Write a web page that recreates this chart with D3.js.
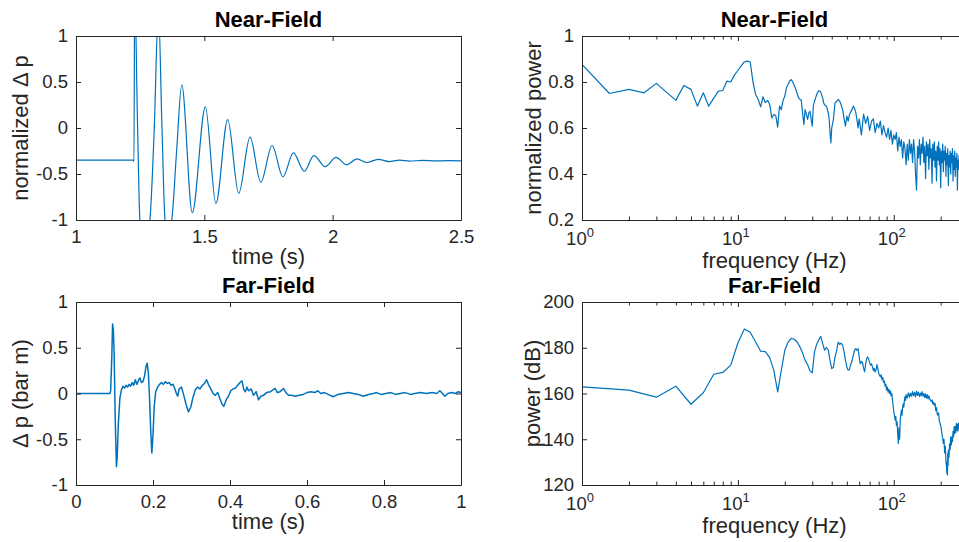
<!DOCTYPE html>
<html>
<head>
<meta charset="utf-8">
<script src="https://cdn.jsdelivr.net/npm/d3@7"></script>
<style>
body{margin:0;background:#fff;overflow:hidden}
svg{display:block;font-family:"Liberation Sans",Arial,Helvetica,sans-serif}
</style>
</head>
<body>
<script>
// near-field pressure, [time s, normalized dp]
const nearTime = [[1.0,-0.35],[1.1,-0.35],[1.2,-0.35],[1.224,-0.35],[1.2258,-0.365],[1.2285,1.5],
  [1.240,0.0],[1.249,-1.0],[1.268,-1.3],[1.288,-1.0],[1.305,0.0],[1.321,1.3],
  [1.335,0.0],[1.347,-1.0],[1.360,-1.12],[1.373,-1.0],[1.392,-0.25],[1.412,0.47],
  [1.453,-0.92],[1.504,0.23],[1.545,-0.82],[1.591,0.09],[1.634,-0.71],[1.678,-0.10],
  [1.720,-0.59],[1.764,-0.19],[1.806,-0.53],[1.847,-0.27],[1.889,-0.47],[1.927,-0.30],
  [1.971,-0.42],[2.013,-0.32],[2.055,-0.40],[2.095,-0.335],[2.133,-0.375],[2.177,-0.34],
  [2.220,-0.365],[2.260,-0.35],[2.300,-0.36],[2.350,-0.352],[2.400,-0.358],[2.450,-0.355],[2.500,-0.357]];

// near-field spectrum, [Hz, normalized power]
const nearSpec = [[1,0.877],[1.5,0.75],[2,0.768],[2.5,0.753],[3,0.794],[4,0.72],[4.5,0.785],[5,0.768],
  [5.5,0.695],[6,0.753],[6.5,0.695],[7,0.73],[7.5,0.76],[8,0.763],[8.5,0.804],[9,0.80],[9.5,0.83],
  [10,0.85],[10.5,0.87],[11,0.887],[11.5,0.891],[12,0.887],[12.5,0.80],[13,0.746],[13.5,0.724],
  [14,0.692],[14.5,0.736],[15,0.71],[15.5,0.72],[16,0.703],[16.5,0.644],[17,0.659],[17.5,0.654],
  [18,0.604],[18.5,0.695],[19,0.68],[19.5,0.72],[20,0.739],[20.5,0.775],[21,0.79],[21.5,0.805],
  [22,0.81],[22.5,0.80],[23,0.785],[23.5,0.768],[24,0.75],[24.5,0.731],[25,0.725],[25.5,0.721],
  [26,0.666],[26.5,0.615],[27,0.68],[27.5,0.66],[28,0.637],[28.5,0.665],[29,0.673],[29.5,0.64],
  [30,0.608],[30.5,0.698],[31,0.715],[31.5,0.73],[32,0.745],[32.5,0.755],[33,0.762],[33.5,0.76],
  [34,0.756],[35,0.73],[35.5,0.71],[36,0.70],[37,0.695],[38,0.666],[38.5,0.64],[39,0.58],[39.5,0.535],
  [40,0.60],[41,0.637],[42,0.71],[43,0.715],[44,0.724],[45,0.717],[46,0.70],[47,0.68],[48,0.64],
  [49,0.608],[50,0.652],[51,0.63],[52,0.659],[53,0.67],[54,0.68],[55,0.695],[56,0.685],[57,0.67],
  [58,0.637],[59,0.60],
  [60,0.64],[62,0.57],[64,0.66],[66,0.62],[68,0.65],[70,0.59],[72,0.63],[74,0.64],[76,0.58],[78,0.62],
  [80,0.60],[82,0.63],[84,0.57],[86,0.61],[88,0.58],[90,0.56],[92,0.60],[94,0.55],[96,0.59],[98,0.53],
  [100,0.57],[102,0.55],[104,0.58],[106,0.50],[108,0.56],[110,0.52],[112,0.55],[114,0.47],[116,0.54],
  [118,0.51],[120,0.44],[122,0.53],[124,0.46],[126,0.55],[128,0.49],[130,0.53],[132,0.45],[134,0.55],
  [136,0.50],[138,0.40],[140,0.33],[142,0.52],[144,0.47],[146,0.55],[148,0.44],[150,0.53],[152,0.49],
  [154,0.56],[156,0.45],[158,0.52],[160,0.38],[162,0.54],[164,0.48],[166,0.53],[168,0.42],[170,0.55],
  [172,0.47],[174,0.51],[176,0.36],[178,0.53],[180,0.46],[182,0.54],[184,0.43],[186,0.50],[188,0.37],
  [190,0.52],[192,0.46],[194,0.54],[196,0.44],[198,0.51],[200,0.34],[202,0.50],[204,0.45],[206,0.53],
  [208,0.41],[210,0.50],[212,0.46],[214,0.52],[216,0.39],[218,0.49],[220,0.44],[222,0.51],[224,0.35],
  [226,0.48],[228,0.43],[230,0.50],[232,0.40],[234,0.49],[236,0.45],[238,0.51],[240,0.37],[242,0.48],
  [244,0.42],[246,0.50],[248,0.39],[250,0.47],[252,0.43],[254,0.49],[256,0.33],[258,0.46],[260,0.42],
  [262,0.48],[264,0.44]];

// far-field pressure, [time s, dp bar m]
const farTime = [[0,0],[0.05,0],[0.088,0],[0.090,0.03],[0.093,0.4],[0.095,0.76],[0.097,0.70],[0.099,0.45],
  [0.100,0.2],[0.102,-0.3],[0.105,-0.80],[0.107,-0.70],[0.110,-0.33],[0.114,-0.05],[0.118,0.04],
  [0.122,0.08],[0.126,0.06],[0.130,0.09],[0.134,0.07],[0.138,0.10],[0.142,0.08],[0.146,0.12],
  [0.150,0.09],[0.154,0.15],[0.158,0.10],[0.162,0.14],[0.166,0.17],[0.170,0.12],[0.174,0.13],
  [0.178,0.19],[0.182,0.30],[0.185,0.33],[0.188,0.22],[0.191,-0.05],[0.194,-0.40],[0.197,-0.65],
  [0.200,-0.45],[0.203,-0.15],[0.207,0.02],[0.212,0.07],[0.217,0.10],[0.222,0.12],[0.227,0.10],
  [0.232,0.13],[0.237,0.11],[0.242,0.12],[0.247,0.09],[0.252,0.10],[0.256,0.06],[0.260,0.01],
  [0.264,-0.03],[0.268,0.05],[0.274,0.07],[0.280,-0.02],[0.286,-0.12],[0.292,-0.20],[0.298,-0.15],
  [0.304,-0.04],[0.310,0.04],[0.316,0.07],[0.322,0.05],[0.328,0.09],[0.334,0.11],[0.339,0.15],
  [0.344,0.10],[0.350,0.05],[0.356,0.00],[0.362,-0.02],[0.368,0.01],[0.374,-0.06],[0.380,-0.12],
  [0.384,-0.14],[0.390,-0.07],[0.396,-0.03],[0.402,0.03],[0.408,0.05],[0.414,0.06],[0.420,0.09],
  [0.426,0.12],[0.431,0.14],[0.436,0.04],[0.440,0.02],[0.444,0.07],[0.448,0.03],[0.455,0.05],
  [0.461,-0.02],[0.468,0.02],[0.474,-0.07],[0.480,-0.03],[0.487,-0.02],[0.495,0.01],[0.505,0.02],
  [0.512,0.04],[0.517,0.055],[0.523,0.01],[0.530,0.02],[0.539,0.055],[0.545,0.01],[0.552,-0.02],
  [0.560,-0.02],[0.570,-0.03],[0.580,-0.02],[0.590,-0.01],[0.600,0.01],[0.610,0.02],[0.620,0.01],
  [0.628,0.03],[0.636,0.00],[0.645,0.01],[0.655,-0.01],[0.668,-0.035],[0.680,-0.01],[0.694,0.00],
  [0.708,0.01],[0.720,0.00],[0.733,-0.01],[0.746,-0.03],[0.760,-0.01],[0.772,0.00],[0.781,0.01],
  [0.792,-0.01],[0.805,0.00],[0.818,0.01],[0.830,-0.01],[0.842,0.00],[0.855,0.01],[0.868,-0.01],
  [0.880,0.00],[0.895,0.01],[0.910,0.00],[0.925,0.01],[0.937,0.00],[0.945,0.03],[0.952,0.00],
  [0.958,-0.03],[0.966,0.00],[0.975,0.01],[0.985,0.00],[0.993,0.02],[1.0,0.01]];

// far-field spectrum, [Hz, dB]
const farSpec = [[1,162.9],[2,161.5],[3,158.4],[4,163.2],[5,155.3],[6,160.3],[7,168.4],[8,169.2],[9,172.4],
  [10,182.1],[11,188.2],[12,186.8],[13,182.5],[14,178.5],[15,178.3],[16,175.7],[17,170.2],[18,160.7],
  [19,170.2],[20,178.9],[21,182.5],[22,184.1],[23,183.7],[24,182.5],[25,180.4],[26,177.7],[27,174.5],
  [28,172.7],[29,169.9],[30,169.0],[31,178.2],[32,181.5],[33,183.3],[34,185.0],[35,181.8],[36,178.9],
  [37,180.1],[38,179.0],[39,174.5],[40,170.9],[41,171.5],[42,176.0],[43,178.6],[44,182.5],[45,181.5],
  [46,182.0],[47,181.0],[48,178.2],[49,174.5],[50,171.6],[51,170.2],[52,170.5],[53,172.8],[54,174.3],
  [55,176.7],[56,178.9],[57,179.6],[58,178.9],[59,179.6],[60,176.0],[61,173.0],[62,174.0],[63,173.4],
  [64,171.2],[65,169.5],[66,173.0],[67,175.3],[68,176.0],[69,175.0],[70,173.6],[71,172.4],[72,173.0],
  [73,171.5],[74,170.0],[75,171.0],[76,169.4],[77,170.4],[78,172.6],[79,171.0],[80,169.0],[81,168.0],
  [82,167.3],[83,168.2],[84,166.0],[85,167.0],[86,164.8],[87,165.5],[88,163.2],[89,164.0],[90,161.5],
  [91,162.8],[92,160.6],[93,161.8],[94,160.0],[95,161.2],[96,159.0],[97,160.1],[98,157.5],[99,155.0],
  [100,152.0],[101,150.5],[102,148.4],[103,150.0],[104,146.0],[105,147.6],[106,142.5],[107,138.2],
  [108,145.0],[109,140.0],[110,148.0],[111,151.0],[112,152.8],[113,150.5],[114,154.0],[115,155.5],
  [116,154.0],[117,157.0],[118,158.6],[119,157.0],[120,159.5],[122,158.0],[124,160.3],[126,158.4],
  [128,160.1],[130,158.8],[132,160.8],[134,159.0],[136,160.5],[138,158.5],[140,161.0],[142,159.2],
  [144,160.6],[146,158.7],[148,160.2],[150,159.0],[152,160.8],[154,158.8],[156,160.0],[158,158.2],
  [160,159.8],[162,158.0],[164,159.5],[166,157.6],[168,159.0],[170,157.8],[172,157.0],[174,156.5],
  [176,157.2],[178,155.5],[180,156.2],[182,154.8],[184,155.7],[186,152.5],[188,153.8],[190,151.0],
  [192,150.5],[194,151.5],[196,148.0],[198,147.0],[200,146.0],[202,144.5],[204,142.0],[206,140.5],
  [208,138.2],[210,140.0],[212,134.0],[214,137.0],[216,131.0],[218,128.0],[219,125.1],[220,130.0],
  [221,124.4],[222,133.8],[223,128.5],[224,135.3],[226,132.0],[228,138.0],[230,135.5],[232,141.0],
  [234,137.5],[236,141.1],[238,139.0],[240,143.5],[242,141.0],[244,145.5],[246,142.5],[248,145.5],
  [250,143.0],[252,147.0],[254,144.0],[256,146.5],[258,143.5],[260,147.0],[262,145.0],[264,147.5]];

// ticks
const timeTicksNear = [1, 1.5, 2, 2.5];
const timeTicksFar = [0, 0.2, 0.4, 0.6, 0.8, 1];
const dpTicks = [-1, -0.5, 0, 0.5, 1];
const normPowTicks = [0.2, 0.4, 0.6, 0.8, 1];
const dbTicks = [120, 140, 160, 180, 200];
const freqMajor = [1, 10, 100];
const freqMinor = [2,3,4,5,6,7,8,9,20,30,40,50,60,70,80,90,200];

const W = 959, H = 542;
const axisCol = "#262626", lineCol = "#0072BD";
const svg = d3.select("body").append("svg").attr("width", W).attr("height", H);

function panel(p) {
  const {l, r, t, b} = p.box;
  const g = svg.append("g");
  g.append("clipPath").attr("id", p.id)
    .append("rect").attr("x", l).attr("y", t).attr("width", r - l).attr("height", b - t);

  g.append("path").datum(p.data)
    .attr("clip-path", `url(#${p.id})`)
    .attr("fill", "none").attr("stroke", lineCol)
    .attr("stroke-width", p.sw || 1.2).attr("stroke-linejoin", "round")
    .attr("d", d3.line().curve(p.curve || d3.curveLinear)
      .x(d => p.x(d[0])).y(d => p.y(d[1])));

  const style = s => {
    s.attr("font-family", null).attr("font-size", 18.5);
    s.selectAll("line,path").attr("stroke", axisCol);
    s.selectAll("text").attr("fill", axisCol);
  };
  const fmt = p.log ? () => "" : d => String(d);
  g.append("g").attr("transform", `translate(0,${b})`)
    .call(d3.axisBottom(p.x).tickValues(p.xTicks).tickSizeInner(-5).tickSizeOuter(0).tickPadding(10).tickFormat(fmt)).call(style);
  g.append("g").attr("transform", `translate(0,${t})`)
    .call(d3.axisTop(p.x).tickValues(p.xTicks).tickSizeInner(-5).tickSizeOuter(0).tickFormat("")).call(style);
  g.append("g").attr("transform", `translate(${l},0)`)
    .call(d3.axisLeft(p.y).tickValues(p.yTicks).tickSizeInner(-5).tickSizeOuter(0).tickPadding(8).tickFormat(d => String(d))).call(style);
  g.append("g").attr("transform", `translate(${r},0)`)
    .call(d3.axisRight(p.y).tickValues(p.yTicks).tickSizeInner(-5).tickSizeOuter(0).tickFormat("")).call(style);

  if (p.log) {
    g.append("g").attr("transform", `translate(0,${b})`)
      .call(d3.axisBottom(p.x).tickValues(freqMinor).tickSizeInner(-3.5).tickSizeOuter(0).tickFormat("")).call(style)
      .call(s => s.select(".domain").remove());
    g.append("g").attr("transform", `translate(0,${t})`)
      .call(d3.axisTop(p.x).tickValues(freqMinor).tickSizeInner(-3.5).tickSizeOuter(0).tickFormat("")).call(style)
      .call(s => s.select(".domain").remove());
    const lab = g.append("g").selectAll("text").data(p.xTicks).join("text")
      .attr("x", d => p.x(d) - 2).attr("y", b + 25)
      .attr("text-anchor", "middle").attr("fill", axisCol).attr("font-size", 18.5);
    lab.append("tspan").text("10");
    lab.append("tspan").attr("dy", -8).attr("font-size", 13).text(d => Math.round(Math.log10(d)));
  }

  g.append("text").attr("x", (l + r) / 2).attr("y", t - 9)
    .attr("text-anchor", "middle").attr("font-weight", "bold").attr("font-size", 22).attr("fill", "#000")
    .text(p.title);
  g.append("text").attr("x", (l + r) / 2).attr("y", b + p.xLabOff)
    .attr("text-anchor", "middle").attr("font-size", 22).attr("fill", axisCol)
    .text(p.xLabel);
  g.append("text").attr("transform", `translate(${p.yLabX},${(t + b) / 2}) rotate(-90)`)
    .attr("text-anchor", "middle").attr("font-size", 22).attr("fill", axisCol)
    .text(p.yLabel);
}

const boxTL = {l: 76, r: 461, t: 36, b: 220};
const boxTR = {l: 582, r: 967, t: 36, b: 220};
const boxBL = {l: 76, r: 461, t: 302, b: 485};
const boxBR = {l: 582, r: 967, t: 302, b: 485};

panel({id: "c1", box: boxTL, data: nearTime, curve: d3.curveMonotoneX,
  x: d3.scaleLinear([1, 2.5], [boxTL.l, boxTL.r]), y: d3.scaleLinear([-1, 1], [boxTL.b, boxTL.t]),
  xTicks: timeTicksNear, yTicks: dpTicks,
  title: "Near-Field", xLabel: "time (s)", yLabel: "normalized \u0394 p", xLabOff: 44, yLabX: 28});

panel({id: "c2", box: boxTR, data: nearSpec, log: true,
  x: d3.scaleLog([1, 295], [boxTR.l, boxTR.r]), y: d3.scaleLinear([0.2, 1], [boxTR.b, boxTR.t]),
  xTicks: freqMajor, yTicks: normPowTicks,
  title: "Near-Field", xLabel: "frequency (Hz)", yLabel: "normalized power", xLabOff: 48, yLabX: 541});

panel({id: "c3", box: boxBL, data: farTime, sw: 1.5,
  x: d3.scaleLinear([0, 1], [boxBL.l, boxBL.r]), y: d3.scaleLinear([-1, 1], [boxBL.b, boxBL.t]),
  xTicks: timeTicksFar, yTicks: dpTicks,
  title: "Far-Field", xLabel: "time (s)", yLabel: "\u0394 p (bar m)", xLabOff: 44, yLabX: 28});

panel({id: "c4", box: boxBR, data: farSpec, log: true,
  x: d3.scaleLog([1, 295], [boxBR.l, boxBR.r]), y: d3.scaleLinear([120, 200], [boxBR.b, boxBR.t]),
  xTicks: freqMajor, yTicks: dbTicks,
  title: "Far-Field", xLabel: "frequency (Hz)", yLabel: "power (dB)", xLabOff: 48, yLabX: 540});
</script>
</body>
</html>
